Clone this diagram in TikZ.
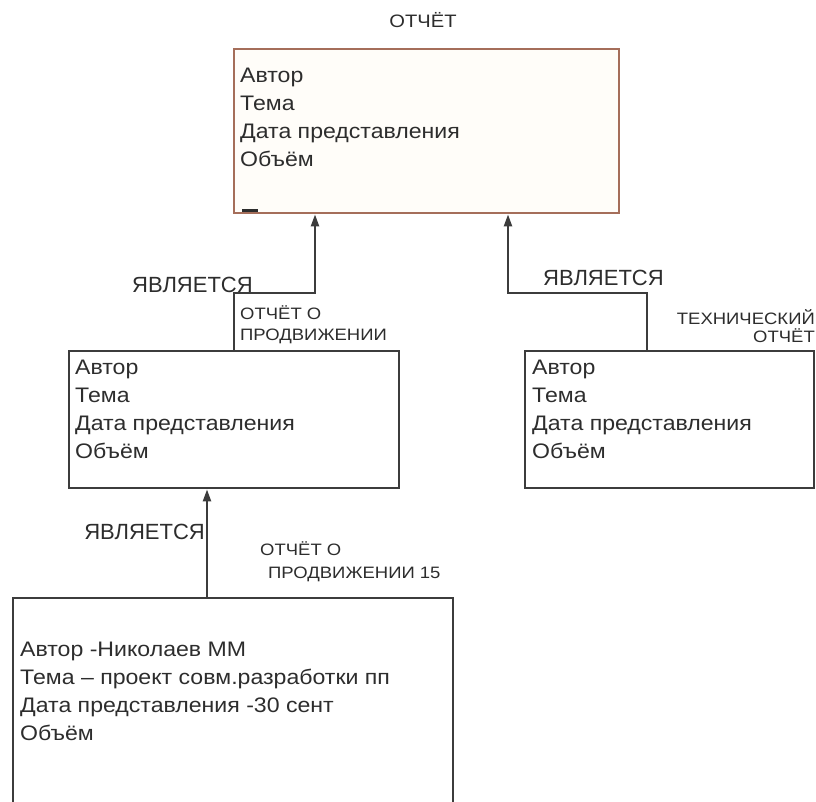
\documentclass[tikz,border=0pt]{standalone}
\usepackage{fontspec}
\setmainfont{Liberation Sans}
\newfontfamily\bodyfont[FakeStretch=1.1]{Liberation Sans}
\newfontfamily\smallfont[FakeStretch=1.12]{Liberation Sans}
\usetikzlibrary{arrows.meta}
\definecolor{ink}{RGB}{45,45,45}
\definecolor{linec}{RGB}{60,60,60}
\definecolor{topedge}{RGB}{165,110,90}
\definecolor{topfill}{RGB}{255,253,249}
\tikzset{
  box/.style={draw=linec, line width=2.4pt, rectangle, inner sep=0pt, anchor=north west},
  topbox/.style={box, draw=topedge, fill=topfill},
  body/.style={anchor=north west, inner sep=0pt, align=left, text=ink, font=\bodyfont\fontsize{21}{28}\selectfont},
  rel/.style={inner sep=0pt, text=ink, font=\fontsize{22}{26}\selectfont},
  tag/.style={inner sep=0pt, text=ink, font=\smallfont\fontsize{16.5}{21}\selectfont},
  arr/.style={draw=linec, line width=2.2pt, -{Triangle[length=12pt,width=8pt]}},
  conn/.style={draw=linec, line width=2.4pt}
}
\begin{document}
\begin{tikzpicture}[x=1pt,y=-1pt]
\useasboundingbox[fill=white] (0,0) rectangle (816,801);
% boxes
\node[topbox, minimum width=385pt, minimum height=164pt] (top) at (233,48) {};
\node[box, minimum width=330pt, minimum height=137pt] (mid) at (68,350) {};
\node[box, minimum width=289pt, minimum height=137pt] (right) at (524,350) {};
\draw[conn] (13,830) -- (13,598) -- (453,598) -- (453,830);
\coordinate (bot) at (233,598);
% title
\node[tag, font=\smallfont\fontsize{18}{21}\selectfont] (title) at (423,20) {ОТЧЁТ};
% box texts
\node[body] (toptext) at (240,68) {Автор\\Тема\\Дата представления\\Объём};
\node[body] (midtext) at (75,360) {Автор\\Тема\\Дата представления\\Объём};
\node[body] (righttext) at (532,360) {Автор\\Тема\\Дата представления\\Объём};
\node[body] (bottext) at (20,642) {Автор -Николаев ММ\\Тема – проект совм.разработки пп\\Дата представления -30 сент\\Объём};
\draw[line width=3pt, draw=ink] (242,210.5) -- (258,210.5);
% connector helpers
\coordinate (c1) at (207,0);
\coordinate (c2) at (315,0);
\coordinate (c3) at (647,0);
\coordinate (c4) at (508,0);
\coordinate (k) at (0,293);
% connectors
\draw[arr] (c1 |- bot) -- (mid.south -| c1);
\draw[arr] (mid.north) -- (mid.north |- k) -| (top.south -| c2);
\draw[arr] (right.north -| c3) -- (c3 |- k) -| (top.south -| c4);
% relation labels
\node[rel, anchor=west] (r1) at (132,285) {ЯВЛЯЕТСЯ};
\node[rel, anchor=west] (r2) at (543,278) {ЯВЛЯЕТСЯ};
\node[rel, anchor=east] (r3) at (205,532) {ЯВЛЯЕТСЯ};
% class name labels
\node[tag, anchor=north west, align=left] (t1) at (240,305) {ОТЧЁТ О\\ПРОДВИЖЕНИИ};
\node[tag, anchor=north east, align=right, font=\smallfont\fontsize{16.5}{18}\selectfont] (t2) at (815,309) {ТЕХНИЧЕСКИЙ\\ОТЧЁТ};
\node[tag, anchor=north west, align=left, font=\smallfont\fontsize{16.5}{23}\selectfont] (t3) at (260,541) {ОТЧЁТ О\\\hspace*{8pt}ПРОДВИЖЕНИИ 15};
\end{tikzpicture}
\end{document}
